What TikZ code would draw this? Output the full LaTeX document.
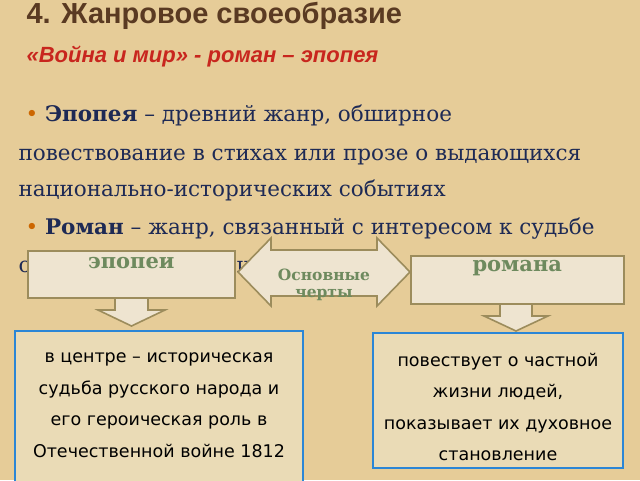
\documentclass[tikz,border=0pt]{standalone}
\usepackage{fontspec}
\setmainfont{DejaVu Serif}
\setsansfont{DejaVu Sans}
\newfontfamily\arialf{Liberation Sans}
\begin{document}
\begin{tikzpicture}[x=1pt,y=-1pt,
  tbox/.style={draw=olivebord,line width=1.6pt,fill=boxfill},
  bluebox/.style={draw=bluebord,line width=2pt,fill=boxbg},
  lbl/.style={font=\bfseries\fontsize{21}{24}\selectfont,text=greentxt},
  body/.style={font=\fontsize{21.5}{25}\selectfont,text=navy,anchor=base west},
  info/.style={font=\sffamily\fontsize{17.5}{31.5}\selectfont,align=center,text=black}]
\definecolor{bg}{HTML}{E6CC98}
\definecolor{boxfill}{HTML}{EEE4D0}
\definecolor{boxbg}{HTML}{EADBB6}
\definecolor{olivebord}{HTML}{9C8C5C}
\definecolor{bluebord}{HTML}{2B86D6}
\definecolor{greentxt}{HTML}{6E8A5E}
\definecolor{navy}{HTML}{1E2A55}
\definecolor{titlec}{HTML}{5A3A22}
\definecolor{redc}{HTML}{C8261E}
\path[fill=bg] (0,0) rectangle (640,480);
\useasboundingbox (0,0) rectangle (640,480);
\node[anchor=west,font=\arialf\bfseries\fontsize{29}{32}\selectfont,text=titlec] (t) at (23,16) {4. Жанровое своеобразие};
\node[anchor=west,font=\arialf\bfseries\itshape\fontsize{22}{25}\selectfont,text=redc] (st) at (23,57) {«Война и мир» - роман – эпопея};
\node[body] (l1) at (22,121) {{\color{orange!80!black}•} \textbf{Эпопея} – древний жанр, обширное};
\node[body] (l2) at (15,160) {повествование в стихах или прозе о выдающихся};
\node[body] (l3) at (15,196) {национально-исторических событиях};
\node[body] (l4) at (22,234) {{\color{orange!80!black}•} \textbf{Роман} – жанр, связанный с интересом к судьбе};
\node[body] (l5) at (15,272) {отдельной личности};
% double arrow
\path[tbox] (238,272) -- (271,238) -- (271,250) -- (377,250) -- (377,238) -- (410,272) -- (377,306) -- (377,296) -- (271,296) -- (271,306) -- cycle;
\node[lbl,align=center,font=\bfseries\fontsize{15.5}{17}\selectfont] (oc) at (324,285) {Основные\\черты};
% boxes
\node[tbox,minimum width=207pt,minimum height=47pt,anchor=north west,inner sep=0] (ep) at (27,250) {};
\node[lbl,anchor=north] at (ep.north) [yshift=-4pt] {эпопеи};
\node[tbox,minimum width=213pt,minimum height=48pt,anchor=north west,inner sep=0] (ro) at (410,255) {};
\node[lbl,anchor=north] at (ro.north) [yshift=-2pt] {романа};
% down arrows
\path[tbox] (115,298) -- (148,298) -- (148,310) -- (165,310) -- (131.5,326) -- (98,310) -- (115,310) -- cycle;
\path[tbox] (500,304) -- (532,304) -- (532,316) -- (548,316) -- (516,331) -- (484,316) -- (500,316) -- cycle;
% blue boxes
\draw[bluebox] (15,331) rectangle (303,482);
\node[info] (lb) at (159,405) {в центре – историческая\\судьба русского народа и\\его героическая роль в\\Отечественной войне 1812};
\draw[bluebox] (373,333) rectangle (623,468);
\node[info] (rb) at (498,407) {повествует о частной\\жизни людей,\\показывает их духовное\\становление};
\end{tikzpicture}
\end{document}
